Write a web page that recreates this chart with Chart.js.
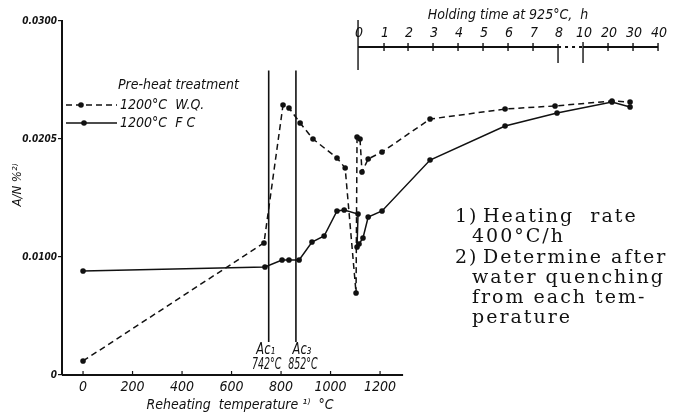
<!DOCTYPE html>
<html>
<head>
<meta charset="utf-8">
<script src="https://cdn.jsdelivr.net/npm/chart.js@4.4.1/dist/chart.umd.min.js"></script>
<style>html,body{margin:0;padding:0;background:#fff}</style>
</head>
<body>
<canvas id="myChart" width="687" height="416"></canvas>
<script>
// Dados (x em escala de temperatura; após 0 h = tempo de manutenção)
var wqTemp  = [0, 731, 808, 832, 877, 929, 1026, 1059, 1103, 1107, 1119, 1127, 1152, 1208, 1402, 1705, 1907, 2137, 2210];
var wqValue = [0.00119, 0.01119, 0.02288, 0.02263, 0.02136, 0.0200, 0.01839, 0.01754, 0.00695, 0.02017, 0.0200, 0.0172, 0.01831, 0.0189, 0.02169, 0.02254, 0.0228, 0.02322, 0.02314];
var fcTemp  = [0, 735, 804, 832, 873, 925, 974, 1026, 1055, 1111, 1107, 1115, 1131, 1152, 1208, 1402, 1705, 1915, 2137, 2210];
var fcValue = [0.00881, 0.00915, 0.00975, 0.00975, 0.00975, 0.01127, 0.01178, 0.0139, 0.01398, 0.01364, 0.01085, 0.0111, 0.01161, 0.01339, 0.0139, 0.01822, 0.0211, 0.0222, 0.02314, 0.02271];

var xTicks = [0, 200, 400, 600, 800, 1000, 1200];
var yTicks = [0, 0.01, 0.02, 0.03];
var yTickLabels = ['0', '0.0100', '0.0205', '0.0300'];

// eixo superior: tempo de manutenção a 925°C
var holdTicks = ['0', '1', '2', '3', '4', '5', '6', '7', '8', '10', '20', '30', '40'];
var holdAt = [1111, 1216, 1313, 1414, 1515, 1616, 1717, 1818, 1919, 2020, 2121, 2222, 2323];

var acTemp = [742, 852];
var acNames = ['Ac\u2081', 'Ac\u2083'];
var acLabels = ['742°C', '852°C'];

var seriesNames = ['1200°C  W.Q.', '1200°C  F C'];
var notes = [['1)', 'Heating  rate'], ['', '400°C/h'], ['2)', 'Determine after'], ['', 'water quenching'], ['', 'from each tem-'], ['', 'perature']];

var fontN = "'DejaVu Sans Condensed','Liberation Sans Narrow','DejaVu Sans',sans-serif";
var fontS = "'DejaVu Serif','Liberation Serif',serif";

function toPoints(xs, ys) {
  return xs.map(function(v, i) { return { x: v, y: ys[i] }; });
}

function seg(ctx, x1, y1, x2, y2) {
  ctx.beginPath(); ctx.moveTo(x1, y1); ctx.lineTo(x2, y2); ctx.stroke();
}

// texto estreitado na horizontal
function narrowText(ctx, txt, x, y, sx) {
  ctx.save();
  ctx.translate(x, y);
  ctx.scale(sx, 1);
  ctx.fillText(txt, 0, 0);
  ctx.restore();
}

// Desenhos extras: eixo inferior, linhas Ac, eixo superior, legenda, notas
var extras = {
  id: 'extras',
  afterDraw: function(chart) {
    var ctx = chart.ctx, x = chart.scales.x, y = chart.scales.y;
    ctx.save();
    ctx.strokeStyle = '#111';
    ctx.fillStyle = '#111';

    // eixo inferior
    var by = y.getPixelForValue(0);
    ctx.lineWidth = 2;
    seg(ctx, x.left, by, x.getPixelForValue(1293), by);
    ctx.lineWidth = 1.2;
    xTicks.forEach(function(v) {
      var px = x.getPixelForValue(v);
      seg(ctx, px, by, px, by - 4);
    });

    // linhas Ac1 / Ac3
    var acShift = [-2, 7];
    ctx.lineWidth = 1.6;
    ctx.font = 'italic 15px ' + fontN;
    ctx.textAlign = 'center';
    ctx.textBaseline = 'middle';
    acTemp.forEach(function(t, i) {
      var px = x.getPixelForValue(t) + 2;
      seg(ctx, px, y.getPixelForValue(0.0258), px, y.getPixelForValue(0.0028));
      narrowText(ctx, acNames[i], px + acShift[i] - 1, 350, 0.85);
      narrowText(ctx, acLabels[i], px + acShift[i], 365, 0.7);
    });

    // eixo superior
    var ty = y.getPixelForValue(0.0278);
    var hx = holdAt.map(function(v) { return x.getPixelForValue(v); });
    ctx.lineWidth = 2;
    seg(ctx, hx[0], ty, hx[8], ty);
    seg(ctx, hx[9], ty, hx[12], ty);
    ctx.setLineDash([3, 4]);
    seg(ctx, hx[8], ty, hx[9], ty);
    ctx.setLineDash([]);
    ctx.lineWidth = 1.4;
    hx.forEach(function(px, i) {
      if (i === 0) seg(ctx, px, ty - 27, px, ty + 23);
      else if (i === 8) seg(ctx, px, ty - 3, px, ty + 16);
      else if (i === 9) seg(ctx, px, ty - 5, px, ty + 16);
      else seg(ctx, px, ty - 4, px, ty + 4);
    });
    ctx.font = 'italic 14px ' + fontN;
    hx.forEach(function(px, i) {
      ctx.fillText(holdTicks[i], px + 1, ty - 14);
    });
    ctx.font = 'italic 14px ' + fontN;
    ctx.fillText('Holding time at 925°C,  h', (hx[3] + hx[9]) / 2, ty - 32);

    // títulos dos eixos
    ctx.fillText('Reheating  temperature \u00b9\u207e  °C', 240, 405);
    ctx.save();
    ctx.translate(18, 185);
    ctx.rotate(-Math.PI / 2);
    ctx.font = 'italic 13px ' + fontN;
    ctx.fillText('A/N %\u00b2\u207e', 0, 0);
    ctx.restore();

    // legenda
    ctx.textAlign = 'left';
    ctx.font = 'italic 14px ' + fontN;
    ctx.fillText('Pre-heat treatment', 118, 85);
    chart.data.datasets.forEach(function(ds, i) {
      var ly = 105 + i * 18;
      ctx.lineWidth = ds.borderWidth;
      ctx.setLineDash(ds.borderDash || []);
      seg(ctx, 66, ly, 117, ly);
      ctx.setLineDash([]);
      ctx.beginPath();
      ctx.arc(i === 0 ? 81 : 84, ly, 2.8, 0, Math.PI * 2);
      ctx.fill();
      ctx.fillText(seriesNames[i], 120, ly);
    });

    // notas
    ctx.font = '19px ' + fontS;
    ctx.letterSpacing = '2px';
    notes.forEach(function(n, i) {
      var ly = 217 + i * 20.3;
      if (n[0]) {
        ctx.fillText(n[0], 455, ly);
        ctx.fillText(n[1], 483, ly);
      } else {
        ctx.fillText(n[1], 472, ly);
      }
    });
    ctx.restore();
  }
};

var ctx = document.getElementById('myChart').getContext('2d');
var chart = new Chart(ctx, {
  type: 'line',
  data: {
    datasets: [{
      label: seriesNames[0],
      data: toPoints(wqTemp, wqValue),
      borderColor: '#111',
      backgroundColor: '#111',
      borderWidth: 1.5,
      borderDash: [6, 4],
      pointRadius: 2.8,
      pointBorderWidth: 0,
      tension: 0,
      fill: false
    }, {
      label: seriesNames[1],
      data: toPoints(fcTemp, fcValue),
      borderColor: '#111',
      backgroundColor: '#111',
      borderWidth: 1.5,
      pointRadius: 2.8,
      pointBorderWidth: 0,
      tension: 0,
      fill: false
    }]
  },
  options: {
    responsive: false,
    animation: false,
    layout: { padding: { left: 0, right: 26, top: 21, bottom: 0 } },
    plugins: {
      legend: { display: false },
      tooltip: { enabled: false }
    },
    scales: {
      x: {
        type: 'linear',
        position: 'bottom',
        min: -85,
        max: 2335,
        afterBuildTicks: function(s) { s.ticks = xTicks.map(function(v) { return { value: v }; }); },
        afterFit: function(s) { s.height = 41; },
        border: { display: false },
        grid: { display: false, drawTicks: false },
        ticks: {
          padding: 4,
          maxRotation: 0,
          autoSkip: false,
          color: '#111',
          font: { family: fontN, size: 14, style: 'italic' },
          callback: function(v) { return String(v); }
        }
      },
      y: {
        min: 0,
        max: 0.03,
        afterBuildTicks: function(s) { s.ticks = yTicks.map(function(v) { return { value: v }; }); },
        afterFit: function(s) { s.width = 62; },
        border: { display: true, color: '#111', width: 2 },
        grid: { drawOnChartArea: false, tickLength: 4, color: '#111', lineWidth: 1.2 },
        ticks: {
          padding: 1,
          color: '#111',
          font: { family: fontN, size: 10, style: 'italic', weight: 'bold' },
          callback: function(v, i) { return yTickLabels[i]; }
        }
      }
    }
  },
  plugins: [extras]
});
</script>
</body>
</html>
